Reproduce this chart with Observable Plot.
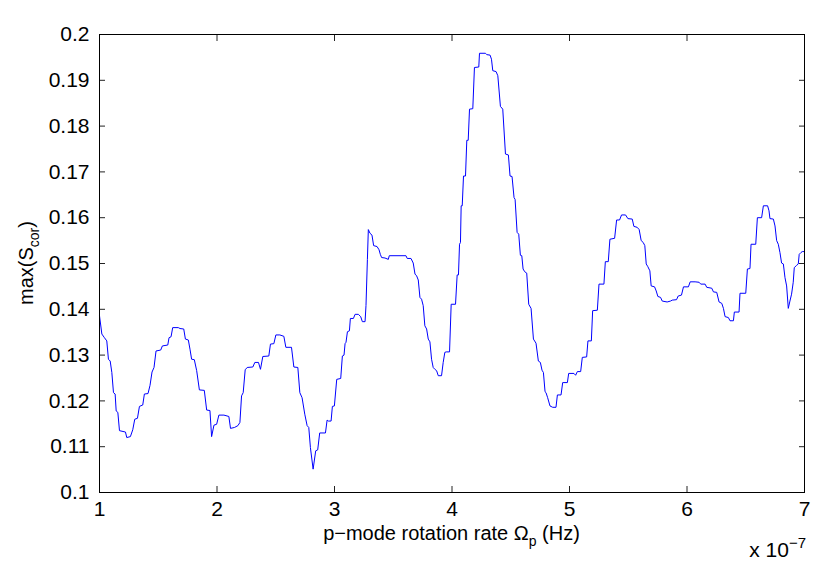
<!DOCTYPE html>
<html><head><meta charset="utf-8">
<script src="https://cdn.jsdelivr.net/npm/d3@7"></script>
<script src="https://cdn.jsdelivr.net/npm/@observablehq/plot@0.6"></script>
<style>
html,body{margin:0;padding:0;background:#fff;}
#chart{width:830px;height:564px;position:relative;}
</style></head><body><div id="chart"></div>
<script>
// p-mode rotation rate, in units of 1e-7 Hz
const rate = [
1.000,1.020,1.042,1.062,1.076,1.091,1.105,1.119,1.133,1.142,1.156,1.170,1.221,1.232,1.263,1.283,1.300,1.323,1.340,1.368,1.382,1.413,1.430,1.447,1.464,1.481,1.521,1.535,1.581,1.592,1.609,1.623,1.671,1.685,1.717,1.731,1.756,1.770,1.784,1.807,1.827,1.850,1.892,1.912,1.940,1.954,
1.974,1.997,2.016,2.059,2.101,2.115,2.149,2.178,2.195,2.209,2.223,2.240,2.257,2.305,2.322,2.353,2.370,2.390,2.441,2.455,2.484,2.501,2.535,2.569,2.586,2.634,2.654,2.688,2.705,2.724,2.747,2.767,2.781,2.795,2.818,2.840,2.857,2.874,2.923,2.937,
2.948,2.971,2.982,2.999,3.019,3.053,3.067,3.081,3.090,3.098,3.110,3.127,3.135,3.161,3.175,3.203,3.223,3.237,3.260,3.268,3.280,3.288,3.302,3.319,3.333,3.362,3.379,3.390,3.401,3.430,3.458,3.466,3.608,3.619,3.651,3.670,3.685,3.699,3.713,3.727,3.741,3.755,3.769,3.784,3.798,3.812,3.826,3.840,3.854,3.869,3.883,3.911,3.925,3.939,
3.951,3.979,3.993,4.030,4.044,4.055,4.064,4.072,4.078,4.087,4.098,4.115,4.126,4.138,4.149,4.177,4.191,4.228,4.234,4.285,4.296,4.324,4.336,4.347,4.375,4.390,4.412,4.432,4.455,4.480,4.494,4.511,4.528,4.537,4.554,4.568,4.582,4.594,4.605,4.619,4.636,4.653,4.673,4.693,4.715,4.735,4.752,4.766,4.778,4.792,4.800,4.814,4.834,4.857,4.885,4.897,4.928,4.942,
4.953,4.982,4.993,5.038,5.052,5.067,5.095,5.109,5.146,5.157,5.186,5.197,5.237,5.251,5.293,5.305,5.330,5.344,5.384,5.401,5.426,5.443,5.477,5.497,5.534,5.548,5.576,5.593,5.610,5.627,5.641,5.653,5.667,5.684,5.695,5.724,5.738,5.752,5.775,5.789,5.831,5.860,5.874,5.911,5.925,5.953,
5.970,6.012,6.027,6.069,6.103,6.117,6.154,6.168,6.211,6.225,6.253,6.273,6.296,6.310,6.324,6.352,6.366,6.395,6.403,6.443,6.451,6.500,6.514,6.536,6.545,6.585,6.599,6.635,6.650,6.686,6.698,6.706,6.735,6.749,6.763,6.777,6.791,6.805,6.820,6.834,6.848,6.862,6.876,6.890,6.904,6.913,6.933,6.947,6.955,6.970,6.981,7.000
];
// max(S_cor)
const maxScor = [
.1386,.1346,.1338,.1331,.1291,.1287,.1262,.1218,.1215,.1178,.1175,.1135,.1132,.1120,.1122,.1137,.1160,.1162,.1188,.1191,.1215,.1216,.1234,.1263,.1273,.1309,.1311,.1320,.1322,.1338,.1340,.1360,.1360,.1358,.1357,.1335,.1333,.1313,.1291,.1290,.1266,.1224,.1223,.1180,.1179,.1122,
.1147,.1149,.1169,.1169,.1166,.1140,.1142,.1146,.1153,.1211,.1218,.1268,.1273,.1274,.1284,.1284,.1269,.1297,.1298,.1324,.1325,.1344,.1344,.1341,.1317,.1317,.1274,.1273,.1218,.1207,.1171,.1146,.1142,.1098,.1051,.1091,.1093,.1130,.1130,.1158,
.1156,.1156,.1188,.1189,.1247,.1249,.1298,.1300,.1325,.1328,.1351,.1353,.1380,.1380,.1389,.1389,.1384,.1373,.1373,.1408,.1509,.1574,.1566,.1562,.1539,.1537,.1530,.1520,.1513,.1512,.1509,.1517,.1517,.1511,.1511,.1501,.1477,.1473,.1464,.1426,.1422,.1408,.1364,.1357,.1335,.1329,.1291,.1273,.1269,.1266,.1255,.1255,.1284,.1306,
.1307,.1307,.1411,.1411,.1475,.1475,.1542,.1546,.1626,.1626,.1691,.1691,.1769,.1769,.1837,.1838,.1928,.1929,.1959,.1959,.1956,.1955,.1946,.1921,.1919,.1910,.1843,.1837,.1739,.1737,.1691,.1690,.1644,.1640,.1568,.1564,.1518,.1517,.1488,.1482,.1479,.1411,.1402,.1335,.1326,.1287,.1284,.1267,.1262,.1220,.1218,.1207,.1189,.1186,.1186,.1213,.1213,.1240,
.1240,.1240,.1260,.1260,.1256,.1264,.1264,.1295,.1296,.1331,.1331,.1397,.1398,.1455,.1455,.1504,.1504,.1553,.1555,.1595,.1595,.1606,.1606,.1598,.1597,.1581,.1579,.1574,.1550,.1546,.1539,.1499,.1493,.1484,.1451,.1449,.1440,.1428,.1426,.1418,.1416,.1418,.1420,.1421,.1429,.1431,
.1449,.1449,.1460,.1460,.1459,.1455,.1455,.1448,.1446,.1438,.1437,.1416,.1413,.1402,.1384,.1382,.1375,.1375,.1394,.1394,.1435,.1435,.1488,.1489,.1542,.1542,.1600,.1600,.1626,.1626,.1615,.1598,.1597,.1582,.1550,.1542,.1524,.1501,.1499,.1469,.1451,.1402,.1418,.1433,.1459,.1491,.1496,.1499,.1520,.1524,.1526,.1526
];
const xTicks = [1,2,3,4,5,6,7];
const xTickLabels = ["1","2","3","4","5","6","7"];
const yTicks = [0.1,0.11,0.12,0.13,0.14,0.15,0.16,0.17,0.18,0.19,0.2];
const yTickLabels = ["0.1","0.11","0.12","0.13","0.14","0.15","0.16","0.17","0.18","0.19","0.2"];

const data = rate.map((r, i) => ({rate: r, s: maxScor[i]}));

const W = 830, H = 564, mL = 99, mR = 26, mT = 34, mB = 72;
const font = "'Liberation Sans', Arial, Helvetica, sans-serif";
const fs = 20, tfs = 21;

const chart = Plot.plot({
  width: W, height: H,
  marginLeft: mL, marginRight: mR, marginTop: mT, marginBottom: mB,
  style: {fontFamily: font, fontSize: fs + "px", color: "black", background: "white", overflow: "visible"},
  x: {domain: [1, 7]},
  y: {domain: [0.1, 0.2]},
  marks: [
    Plot.line(data, {x: "rate", y: "s", stroke: "#0000ff", strokeWidth: 1}),
    Plot.axisX(xTicks, {anchor: "bottom", tickSize: -6, tickFormat: () => "", label: null, stroke: "#222"}),
    Plot.axisX(xTicks, {anchor: "top", tickSize: -6, tickFormat: () => "", label: null, stroke: "#222"}),
    Plot.axisY(yTicks, {anchor: "left", tickSize: -6, tickFormat: () => "", label: null, stroke: "#222"}),
    Plot.axisY(yTicks, {anchor: "right", tickSize: -6, tickFormat: () => "", label: null, stroke: "#222"}),
    Plot.axisX(xTicks, {anchor: "bottom", tickSize: 0, tickPadding: 9, tickFormat: d => xTickLabels[xTicks.indexOf(d)], label: null, fontSize: tfs}),
    Plot.axisY(yTicks, {anchor: "left", tickSize: 0, tickPadding: 10, tickFormat: d => yTickLabels[yTicks.indexOf(d)], label: null, fontSize: tfs}),
    Plot.frame({stroke: "black", strokeWidth: 1})
  ]
});
document.getElementById("chart").appendChild(chart);

const svg = d3.select(chart);
// x-axis label with subscript
const xl = svg.append("text")
  .attr("x", (mL + (W - mR)) / 2).attr("y", 540)
  .attr("text-anchor", "middle")
  .attr("font-family", font).attr("font-size", fs).attr("fill", "black");
xl.append("tspan").text("p\u2212mode rotation rate \u03A9");
xl.append("tspan").attr("dy", 6).attr("font-size", 14).text("p");
xl.append("tspan").attr("dy", -6).text(" (Hz)");

// exponent note
const ex = svg.append("text")
  .attr("x", 806).attr("y", 557)
  .attr("text-anchor", "end")
  .attr("font-family", font).attr("font-size", tfs).attr("fill", "black");
ex.append("tspan").text("x 10");
ex.append("tspan").attr("dy", -9).attr("font-size", 15).text("\u22127");

// y-axis label with subscript
const yl = svg.append("text")
  .attr("transform", `translate(33, ${(mT + (H - mB)) / 2}) rotate(-90)`)
  .attr("text-anchor", "middle")
  .attr("font-family", font).attr("font-size", fs).attr("fill", "black");
yl.append("tspan").text("max(S");
yl.append("tspan").attr("dy", 6).attr("font-size", 14).text("cor");
yl.append("tspan").attr("dy", -6).text(")");
</script>
</body></html>
